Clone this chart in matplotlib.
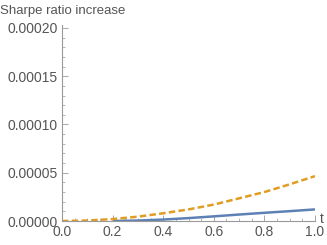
import matplotlib
matplotlib.use("Agg")
import matplotlib.pyplot as plt
from matplotlib.ticker import MultipleLocator, FormatStrFormatter

# values
t_blue = [0.2, 0.3, 0.4, 0.5, 0.6, 0.7, 0.8, 0.9, 1.0]
sr_blue = [0.0, 0.05e-5, 0.15e-5, 0.3e-5, 0.48e-5, 0.67e-5, 0.85e-5, 1.02e-5, 1.2e-5]

t_orange = [0.0, 0.1, 0.2, 0.3, 0.4, 0.5, 0.6, 0.7, 0.8, 0.9, 1.0]
sr_orange = [0.0, 0.05e-5, 0.2e-5, 0.45e-5, 0.8e-5, 1.2e-5, 1.7e-5, 2.35e-5, 3.0e-5, 3.8e-5, 4.65e-5]

x_ticks = [0.0, 0.2, 0.4, 0.6, 0.8, 1.0]
y_ticks = [0.0, 0.00005, 0.00010, 0.00015, 0.00020]

plt.rcParams['font.family'] = ['Liberation Sans', 'DejaVu Sans']
grey = '#999999'
txt = '#555555'

fig = plt.figure(figsize=(3.27, 2.45), dpi=100)
ax = fig.add_axes([62 / 327, 1 - 221 / 245, (315 - 62) / 327, (221 - 25) / 245])

ax.plot(t_blue, sr_blue, color='#5E81B5', lw=1.8, solid_capstyle='butt')
ax.plot(t_orange, sr_orange, color='#E19C24', lw=1.8, ls=(0, (2.6, 1.3)))

ax.set_xlim(0, 1.0)
ax.set_ylim(0, 0.0002 * 196 / 193)
ax.set_xticks(x_ticks)
ax.set_yticks(y_ticks)
ax.xaxis.set_minor_locator(MultipleLocator(0.05))
ax.yaxis.set_minor_locator(MultipleLocator(0.00001))
ax.xaxis.set_major_formatter(FormatStrFormatter('%.1f'))
ax.yaxis.set_major_formatter(FormatStrFormatter('%.5f'))

for s in ['top', 'right']:
    ax.spines[s].set_visible(False)
for s in ['left', 'bottom']:
    ax.spines[s].set_color(grey)
    ax.spines[s].set_linewidth(0.8)

ax.tick_params(which='major', direction='in', length=4, width=0.6, color=grey,
               labelsize=10, labelcolor=txt, pad=3)
ax.tick_params(which='minor', direction='in', length=2.2, width=0.5, color=grey)

fig.text(0 / 327, 1 - 11 / 245, 'Sharpe ratio increase', fontsize=9.5, color=txt,
         ha='left', va='center')
fig.text(322 / 327, 1 - 219 / 245, 't', fontsize=10, color=txt, ha='center', va='center')

fig.savefig('out.png', dpi=100)
